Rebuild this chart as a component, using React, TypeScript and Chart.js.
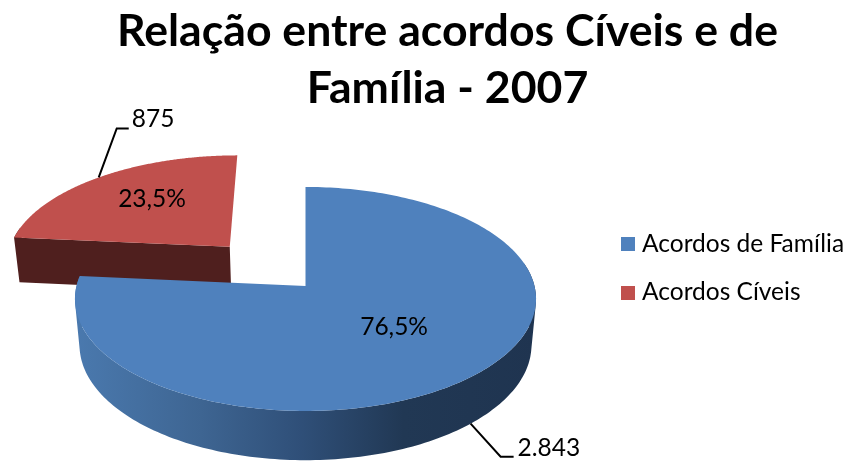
import React, { useEffect, useRef } from "react";
import { Chart, registerables } from "chart.js";

Chart.register(...registerables);

const categories = ["Acordos de Família", "Acordos Cíveis"];
const values = [2843, 875];
const valueLabels = ["2.843", "875"];
const percentLabels = ["76,5%", "23,5%"];
const titleLines = ["Relação entre acordos Cíveis e de", "Família - 2007"];

const faceColors = ["#4f81bd", "#c0504d"];
const FONT = "Lato, Carlito, 'Noto Sans', sans-serif";
const LABEL_FONT = `24.5px ${FONT}`;

// Oblique 3D view of the pie
const VIEW = { cx: 305.5, cy: 286, rx: 229, ry: 110.5, persp: -0.1157, depth: 47, shrink: 0.02 };
const EXPLODE = [0, 0.5];
const EXPLODE_U = [0, -0.008];
const LABEL_RADIUS = [0.5, 0.52];
const LABEL_NUDGE = [[8, -2], [-7, -10]];
const LEADER = [
  { elbow: [30, 33], end: [43, 33], text: [47, 32] },
  { elbow: [18, -49], end: [30, -49], text: [33, -50] },
];
const LEGEND = { boxX: 621, boxSize: 14, textX: 642, boxTop: [237, 286], baseline: [252, 300] };
const BACK_FACING_SIN = -0.2;

type P = { u: number; v: number; z: number };
function project({ u, v, z }: P) {
  const d = 1 + VIEW.persp * v + VIEW.shrink * z;
  return {
    x: VIEW.cx + (VIEW.rx * u) / d,
    y: VIEW.cy + (VIEW.ry * v + VIEW.depth * z) / d,
  };
}

function traceQuad(ctx: CanvasRenderingContext2D, pts: { x: number; y: number }[]) {
  let area = 0;
  pts.forEach((p, i) => {
    const q = pts[(i + 1) % pts.length];
    area += p.x * q.y - q.x * p.y;
  });
  const ordered = area < 0 ? [...pts].reverse() : pts;
  ordered.forEach((p, i) => (i === 0 ? ctx.moveTo(p.x, p.y) : ctx.lineTo(p.x, p.y)));
  ctx.closePath();
}

const pie3d = {
  id: "pie3d",
  beforeDatasetsDraw(chart: any) {
    const ctx: CanvasRenderingContext2D = chart.ctx;
    const arcs = chart.getDatasetMeta(0).data;
    const order = [1, 0];
    const side = ctx.createLinearGradient(76, 0, 537, 0);
    side.addColorStop(0, "#4a79ae");
    side.addColorStop(0.27, "#3e6592");
    side.addColorStop(0.49, "#2f4f78");
    side.addColorStop(0.71, "#213854");
    side.addColorStop(1, "#1f3450");
    const sides: (string | CanvasGradient)[] = [side, "#4f1f1e"];

    ctx.save();
    for (const i of order) {
      const arc = arcs[i];
      const { startAngle, endAngle } = arc.getProps(["startAngle", "endAngle"], true);
      const mid = (startAngle + endAngle) / 2;
      const ou = Math.cos(mid) * EXPLODE[i] + EXPLODE_U[i];
      const ov = Math.sin(mid) * EXPLODE[i];
      const steps = 240;
      const ring: { u: number; v: number; facing: boolean }[] = [{ u: ou, v: ov, facing: true }];
      for (let s = 0; s <= steps; s++) {
        const a = startAngle + ((endAngle - startAngle) * s) / steps;
        ring.push({ u: ou + Math.cos(a), v: ov + Math.sin(a), facing: Math.sin(a) > BACK_FACING_SIN });
      }
      // side walls, one union path so that no seams appear; walls facing away are left out
      ctx.fillStyle = sides[i];
      ctx.beginPath();
      for (let s = 0; s < ring.length - 1; s++) {
        const a = ring[s];
        const b = ring[s + 1];
        if (!b.facing) continue;
        traceQuad(ctx, [
          project({ ...a, z: 0 }),
          project({ ...b, z: 0 }),
          project({ ...b, z: 1 }),
          project({ ...a, z: 1 }),
        ]);
      }
      ctx.fill("nonzero");
      // top face
      ctx.fillStyle = arc.options.backgroundColor;
      ctx.beginPath();
      ring.forEach((r, s) => {
        const p = project({ ...r, z: 0 });
        if (s === 0) ctx.moveTo(p.x, p.y);
        else ctx.lineTo(p.x, p.y);
      });
      ctx.closePath();
      ctx.fill();
    }

    // labels and leader lines
    ctx.fillStyle = "#000";
    ctx.font = LABEL_FONT;
    arcs.forEach((arc: any, i: number) => {
      const { startAngle, endAngle } = arc.getProps(["startAngle", "endAngle"], true);
      const mid = (startAngle + endAngle) / 2;
      const cu = Math.cos(mid);
      const cv = Math.sin(mid);
      const e = EXPLODE[i];
      const du = EXPLODE_U[i];
      const lab = project({ u: du + cu * (e + LABEL_RADIUS[i]), v: cv * (e + LABEL_RADIUS[i]), z: 0 });
      ctx.textAlign = "center";
      ctx.textBaseline = "middle";
      ctx.fillText(percentLabels[i], lab.x + LABEL_NUDGE[i][0], lab.y + LABEL_NUDGE[i][1]);

      const rim = project({ u: du + cu * (e + 1), v: cv * (e + 1), z: cv > 0 ? 1 : 0 });
      const l = LEADER[i];
      ctx.strokeStyle = "#000";
      ctx.lineWidth = 2;
      ctx.beginPath();
      ctx.moveTo(rim.x, rim.y);
      ctx.lineTo(rim.x + l.elbow[0], rim.y + l.elbow[1]);
      ctx.lineTo(rim.x + l.end[0], rim.y + l.end[1]);
      ctx.stroke();
      ctx.textAlign = "left";
      ctx.textBaseline = "alphabetic";
      ctx.fillText(valueLabels[i], rim.x + l.text[0], rim.y + l.text[1]);
    });

    // legend
    categories.forEach((name, i) => {
      ctx.fillStyle = arcs[i].options.backgroundColor;
      ctx.fillRect(LEGEND.boxX, LEGEND.boxTop[i], LEGEND.boxSize, LEGEND.boxSize);
      ctx.fillStyle = "#000";
      ctx.textAlign = "left";
      ctx.textBaseline = "alphabetic";
      ctx.fillText(name, LEGEND.textX, LEGEND.baseline[i]);
    });
    ctx.restore();
    return false;
  },
};

export default function App() {
  const ref = useRef<HTMLCanvasElement>(null);
  useEffect(() => {
    document.body.style.margin = "0";
    const chart = new Chart(ref.current!, {
      type: "pie",
      data: {
        labels: categories,
        datasets: [{ data: values, backgroundColor: faceColors, borderWidth: 0 }],
      },
      options: {
        animation: false,
        responsive: false,
        layout: { padding: { left: 45, right: 0, top: 0, bottom: 0 } },
        plugins: {
          title: {
            display: true,
            text: titleLines,
            color: "#000",
            font: { family: FONT, size: 44.6, weight: "bold", lineHeight: 1.28 },
            padding: { top: 3, bottom: 0 },
          },
          legend: { display: false },
          tooltip: { enabled: false },
        },
      },
      plugins: [pie3d],
    } as any);
    return () => chart.destroy();
  }, []);
  return (
    <div style={{ width: 850, height: 461 }}>
      <canvas ref={ref} width={850} height={461} style={{ display: "block" }} />
    </div>
  );
}
